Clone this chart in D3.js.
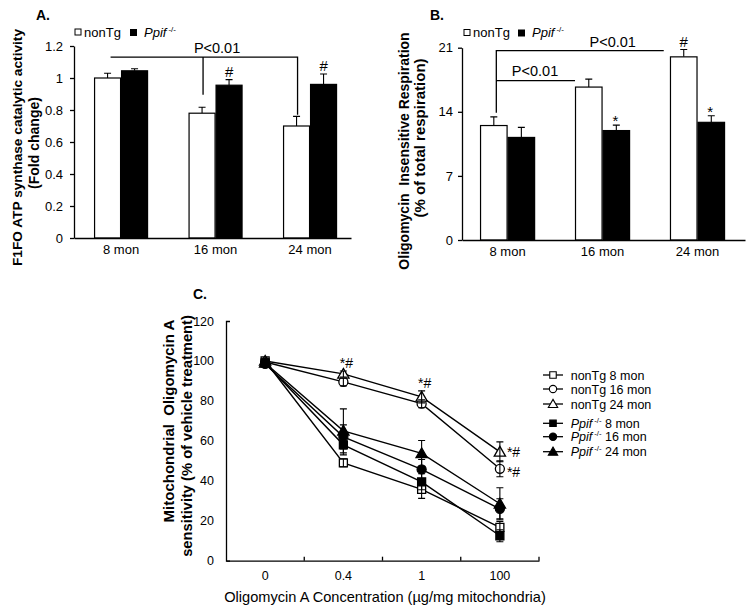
<!DOCTYPE html>
<html><head><meta charset="utf-8">
<script src="https://cdn.jsdelivr.net/npm/d3@7"></script>
<style>body{margin:0;background:#fff} text{font-family:Arial,"Liberation Sans",sans-serif;fill:#000}</style>
</head><body><svg id="c" width="752" height="614"></svg>
<script>
// ---------- DATA ----------
const ageCats = ["8 mon", "16 mon", "24 mon"];
const groups = ["nonTg", "Ppif"];
// Panel A: F1FO ATP synthase catalytic activity (fold change)
const atpNonTg = [1.00, 0.78, 0.70];
const atpNonTgErr = [0.03, 0.037, 0.06];
const atpPpif = [1.045, 0.955, 0.96];
const atpPpifErr = [0.013, 0.035, 0.065];
const atpTicks = [0, 0.2, 0.4, 0.6, 0.8, 1, 1.2];
// Panel B: Oligomycin insensitive respiration (% of total)
const oirNonTg = [12.5, 16.7, 20.0];
const oirNonTgErr = [0.95, 0.87, 0.8];
const oirPpif = [11.2, 11.95, 12.85];
const oirPpifErr = [1.1, 0.6, 0.72];
const oirTicks = [0, 7, 14, 21];
// Panel C: Mitochondrial oligomycin A sensitivity
const concCats = ["0", "0.4", "1", "100"];
const concTicks = [0, 20, 40, 60, 80, 100, 120];
const cNonTg8 = [100, 49, 35.7, 16.7];
const cNonTg8Err = [0, 2, 4.5, 3];
const cNonTg16 = [99.5, 89.5, 78.6, 46];
const cNonTg16Err = [0, 2, 2, 4];
const cNonTg24 = [100, 93.5, 82, 54.5];
const cNonTg24Err = [0, 1.5, 3, 5];
const cPpif8 = [99, 58, 39.5, 12.5];
const cPpif8Err = [0, 5, 4, 3];
const cPpif16 = [98.5, 62, 45.7, 26];
const cPpif16Err = [0, 6, 5, 5];
const cPpif24 = [99, 65, 53.7, 28.5];
const cPpif24Err = [0, 11, 6.5, 8];
const cSeriesNames = ["nonTg 8 mon", "nonTg 16 mon", "nonTg 24 mon", "Ppif 8 mon", "Ppif 16 mon", "Ppif 24 mon"];

// ---------- DRAW ----------
const svg = d3.select("#c");

function styleAxis(g, fs) {
  g.selectAll("path,line").attr("stroke", "#000").attr("stroke-width", 1.3);
  g.selectAll("text").attr("font-size", fs).attr("fill", "#000").attr("font-family", "Arial, 'Liberation Sans', sans-serif");
}

function supLabel(sel, x, y, pre, post, fs) {
  const t = sel.append("text").attr("x", x).attr("y", y).attr("font-size", fs);
  if (pre) t.append("tspan").text(pre);
  t.append("tspan").attr("font-style", "italic").text("Ppif");
  t.append("tspan").attr("font-size", fs * 0.62).attr("dy", -fs * 0.38).attr("dx", 2).text("-/-");
  if (post) t.append("tspan").attr("dy", fs * 0.38).text(post);
  return t;
}

function barPanel(cfg) {
  const g = svg.append("g");
  const x0 = d3.scaleBand().domain(ageCats).range(cfg.xr)
    .paddingInner(cfg.pi).paddingOuter(cfg.po).align(cfg.align);
  const x1 = d3.scaleBand().domain(groups).range([0, x0.bandwidth()]);
  const y = d3.scaleLinear().domain(cfg.yd).range(cfg.yr);
  const rows = ageCats.map((c, i) => [
    { c, g: "nonTg", v: cfg.a[i], e: cfg.ae[i] },
    { c, g: "Ppif", v: cfg.b[i], e: cfg.be[i] }
  ]).flat();
  const cx = d => x0(d.c) + x1(d.g) + x1.bandwidth() / 2;
  // error bars (upper only)
  g.selectAll(".eb").data(rows).join("path")
    .attr("d", d => `M${cx(d)},${y(d.v)}V${y(d.v + d.e)}M${cx(d) - 3.5},${y(d.v + d.e)}H${cx(d) + 3.5}`)
    .attr("stroke", "#000").attr("stroke-width", 1.1).attr("fill", "none");
  g.selectAll(".bar").data(rows).join("rect")
    .attr("x", d => x0(d.c) + x1(d.g) + 0.5).attr("width", x1.bandwidth() - 1)
    .attr("y", d => y(d.v)).attr("height", d => y(0) - y(d.v))
    .attr("fill", d => d.g === "nonTg" ? "#fff" : "#000")
    .attr("stroke", "#000").attr("stroke-width", 1.2);
  const ya = g.append("g").attr("transform", `translate(${cfg.xr[0]},0)`)
    .call(d3.axisLeft(y).tickValues(cfg.ticks).tickFormat(d3.format("~g")).tickSize(4).tickSizeOuter(0).tickPadding(cfg.tp));
  styleAxis(ya, 13);
  const xa = g.append("g").attr("transform", `translate(0,${y(0)})`)
    .call(d3.axisBottom(x0).tickSize(0).tickPadding(7));
  styleAxis(xa, 13);
  return { g, x0, x1, y, cx };
}

// ----- Panel A -----
const A = barPanel({ xr: [74, 351], pi: 0.4286, po: 0.18, align: 0.59, yd: [0, 1.2], yr: [238, 46],
  a: atpNonTg, ae: atpNonTgErr, b: atpPpif, be: atpPpifErr, ticks: atpTicks, tp: 7 });
{
  const g = A.g, y = A.y;
  const nx = c => A.x0(c) + A.x1("nonTg") + A.x1.bandwidth() / 2;
  const px = c => A.x0(c) + A.x1("Ppif") + A.x1.bandwidth() / 2;
  const yb = y(1.13);
  g.append("path").attr("d", `M${nx("8 mon") + 3},${yb}H${nx("24 mon") + 1}V${y(0.77)}M${nx("16 mon") + 1},${yb}V${y(0.895)}`)
    .attr("stroke", "#000").attr("stroke-width", 1.3).attr("fill", "none");
  g.append("text").attr("x", nx("16 mon") + 15).attr("y", yb - 4).attr("text-anchor", "middle").attr("font-size", 14.5).text("P<0.01");
  [1, 2].forEach(i => g.append("text").attr("x", px(ageCats[i])).attr("y", y(atpPpif[i] + atpPpifErr[i]) - 3)
    .attr("text-anchor", "middle").attr("font-size", 15).text("#"));
  g.append("text").attr("x", 36).attr("y", 19.5).attr("font-size", 14).attr("font-weight", "bold").text("A.");
  g.append("rect").attr("x", 75).attr("y", 29).attr("width", 6).attr("height", 6).attr("fill", "#fff").attr("stroke", "#000");
  g.append("text").attr("x", 84).attr("y", 36.5).attr("font-size", 13).text("nonTg");
  g.append("rect").attr("x", 130).attr("y", 29).attr("width", 7).attr("height", 7).attr("fill", "#000");
  supLabel(g, 144, 36.5, null, null, 13);
  g.append("text").attr("transform", "translate(22,147.5) rotate(-90)").attr("text-anchor", "middle")
    .attr("font-size", 13.7).attr("font-weight", "bold").text("F1FO ATP synthase catalytic activity");
  g.append("text").attr("transform", "translate(38.7,143) rotate(-90)").attr("text-anchor", "middle")
    .attr("font-size", 14).attr("font-weight", "bold").text("(Fold change)");
}

// ----- Panel B -----
const B = barPanel({ xr: [462, 745], pi: 0.42, po: 0.2, align: 0.475, yd: [0, 21], yr: [240, 47.7],
  a: oirNonTg, ae: oirNonTgErr, b: oirPpif, be: oirPpifErr, ticks: oirTicks, tp: 5 });
{
  const g = B.g, y = B.y;
  const nx = c => B.x0(c) + B.x1("nonTg") + B.x1.bandwidth() / 2;
  const px = c => B.x0(c) + B.x1("Ppif") + B.x1.bandwidth() / 2;
  const x8 = nx("8 mon") + 2.5;
  g.append("path").attr("d", `M${x8},${y(13.9)}V${y(20.67)}H${nx("24 mon") - 20}M${x8},${y(17.4)}H${B.x0("16 mon")}`)
    .attr("stroke", "#000").attr("stroke-width", 1.3).attr("fill", "none");
  g.append("text").attr("x", nx("16 mon") + 24).attr("y", y(20.67) - 4).attr("text-anchor", "middle").attr("font-size", 14.5).text("P<0.01");
  g.append("text").attr("x", B.x0("8 mon") + 55).attr("y", y(17.4) - 5).attr("text-anchor", "middle").attr("font-size", 14.5).text("P<0.01");
  g.append("text").attr("x", nx("24 mon")).attr("y", y(oirNonTg[2] + oirNonTgErr[2]) - 2.5)
    .attr("text-anchor", "middle").attr("font-size", 15).text("#");
  [1, 2].forEach(i => g.append("text").attr("x", px(ageCats[i]) - 1).attr("y", y(oirPpif[i] + oirPpifErr[i]) + 1)
    .attr("text-anchor", "middle").attr("font-size", 15).text("*"));
  g.append("text").attr("x", 430).attr("y", 19.5).attr("font-size", 14).attr("font-weight", "bold").text("B.");
  g.append("rect").attr("x", 464).attr("y", 29.5).attr("width", 6).attr("height", 6).attr("fill", "#fff").attr("stroke", "#000");
  g.append("text").attr("x", 473).attr("y", 37).attr("font-size", 13).text("nonTg");
  g.append("rect").attr("x", 518).attr("y", 29.5).attr("width", 7).attr("height", 7).attr("fill", "#000");
  supLabel(g, 532, 37, null, null, 13);
  g.append("text").attr("transform", "translate(409,151) rotate(-90)").attr("text-anchor", "middle")
    .attr("font-size", 14).attr("font-weight", "bold").attr("xml:space", "preserve").text("Oligomycin  Insensitive Respiration");
  g.append("text").attr("transform", "translate(424.5,138) rotate(-90)").attr("text-anchor", "middle")
    .attr("font-size", 15).attr("font-weight", "bold").text("(% of total respiration)");
}

// ----- Panel C -----
{
  const g = svg.append("g");
  const x = d3.scaleBand().domain(concCats).range([226, 539]);
  const y = d3.scaleLinear().domain([0, 120]).range([560.7, 321]);
  const cx = c => x(c) + x.bandwidth() / 2;
  const series = [
    { name: cSeriesNames[0], v: cNonTg8, e: cNonTg8Err, sym: d3.symbolSquare, fill: "#fff" },
    { name: cSeriesNames[1], v: cNonTg16, e: cNonTg16Err, sym: d3.symbolCircle, fill: "#fff" },
    { name: cSeriesNames[2], v: cNonTg24, e: cNonTg24Err, sym: d3.symbolTriangle, fill: "#fff" },
    { name: cSeriesNames[3], v: cPpif8, e: cPpif8Err, sym: d3.symbolSquare, fill: "#000" },
    { name: cSeriesNames[4], v: cPpif16, e: cPpif16Err, sym: d3.symbolCircle, fill: "#000" },
    { name: cSeriesNames[5], v: cPpif24, e: cPpif24Err, sym: d3.symbolTriangle, fill: "#000" }
  ];
  const symSize = s => s === d3.symbolTriangle ? 55 : 64;
  const line = d3.line().x((d, i) => cx(concCats[i])).y(d => y(d));
  series.forEach(s => g.append("path").attr("d", line(s.v)).attr("fill", "none").attr("stroke", "#000").attr("stroke-width", 1.4));
  series.forEach(s => s.v.forEach((v, i) => g.append("path")
    .attr("d", d3.symbol().type(s.sym).size(symSize(s.sym))())
    .attr("transform", `translate(${cx(concCats[i])},${y(v) + (s.sym === d3.symbolTriangle ? 1 : 0)})`)
    .attr("fill", s.fill).attr("stroke", "#000").attr("stroke-width", 1.3)));
  series.forEach(s => s.v.forEach((v, i) => {
    if (!s.e[i]) return;
    const xx = cx(concCats[i]), t = y(v + s.e[i]), b = y(v - s.e[i]);
    g.append("path").attr("d", `M${xx},${t}V${b}M${xx - 3.5},${t}H${xx + 3.5}M${xx - 3.5},${b}H${xx + 3.5}`)
      .attr("stroke", "#000").attr("stroke-width", 1.1).attr("fill", "none");
  }));
  const ya = g.append("g").attr("transform", "translate(226,0)")
    .call(d3.axisLeft(y).tickValues(concTicks).tickSize(0).tickSizeOuter(-4).tickPadding(12));
  styleAxis(ya, 12.5);
  const xa = g.append("g").attr("transform", `translate(0,${y(0)})`)
    .call(d3.axisBottom(x).tickSize(0).tickSizeOuter(0).tickPadding(10));
  styleAxis(xa, 12.5);
  g.selectAll(".bt").data(concCats).join("line")
    .attr("x1", c => x(c) + x.step()).attr("x2", c => x(c) + x.step())
    .attr("y1", y(0)).attr("y2", y(0) - 4).attr("stroke", "#000").attr("stroke-width", 1.3);
  // significance
  const sig = [
    { c: "0.4", v: 96.4, anchor: "middle", dx: 3 },
    { c: "1", v: 86.4, anchor: "middle", dx: 3 },
    { c: "100", v: 51.9, anchor: "start", dx: 7 },
    { c: "100", v: 41.9, anchor: "start", dx: 7 }
  ];
  sig.forEach(s => g.append("text").attr("x", cx(s.c) + s.dx).attr("y", y(s.v)).attr("text-anchor", s.anchor)
    .attr("font-size", 14).text("*#"));
  g.append("text").attr("x", 193).attr("y", 299).attr("font-size", 14).attr("font-weight", "bold").text("C.");
  g.append("text").attr("x", 385).attr("y", 602).attr("text-anchor", "middle").attr("font-size", 14.6)
    .text("Oligomycin A Concentration (µg/mg mitochondria)");
  g.append("text").attr("transform", "translate(174,421) rotate(-90)").attr("text-anchor", "middle")
    .attr("font-size", 15).attr("font-weight", "bold").attr("xml:space", "preserve").text("Mitochondrial  Oligomycin A");
  g.append("text").attr("transform", "translate(192,436) rotate(-90)").attr("text-anchor", "middle")
    .attr("font-size", 14.7).attr("font-weight", "bold").text("sensitivity (% of vehicle treatment)");
  // legend
  const ly = [375, 389, 404, 423.3, 436.7, 451.7];
  series.forEach((s, i) => {
    g.append("line").attr("x1", 543).attr("x2", 563).attr("y1", ly[i]).attr("y2", ly[i]).attr("stroke", "#000").attr("stroke-width", 1.3);
    g.append("path").attr("d", d3.symbol().type(s.sym).size(s.sym === d3.symbolTriangle ? 38 : 42)())
      .attr("transform", `translate(553,${ly[i] + (s.sym === d3.symbolTriangle ? 0.8 : 0)})`)
      .attr("fill", s.fill).attr("stroke", "#000").attr("stroke-width", 1.1);
    const parts = s.name.split(" ");
    if (parts[0] === "nonTg") {
      g.append("text").attr("x", 570.7).attr("y", ly[i] + 4.5).attr("font-size", 12.5).text(s.name);
    } else {
      supLabel(g, 570.7, ly[i] + 4.5, null, " " + parts.slice(1).join(" "), 12.5);
    }
  });
}
</script></body></html>
